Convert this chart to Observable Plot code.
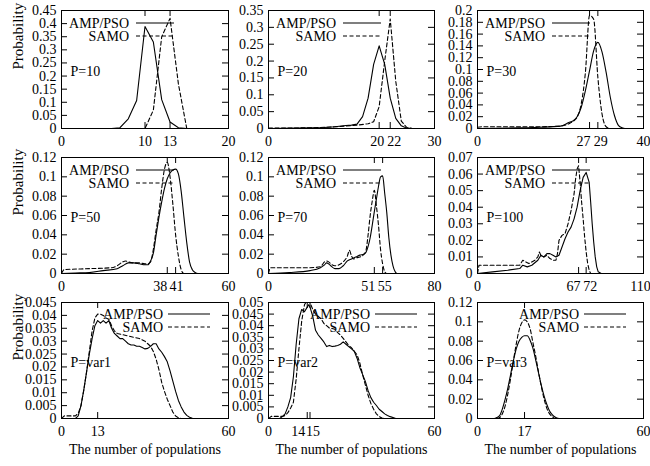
<!DOCTYPE html>
<html><head><meta charset="utf-8">
<script src="https://cdn.jsdelivr.net/npm/d3@7"></script>
<script src="https://cdn.jsdelivr.net/npm/@observablehq/plot@0.6"></script>
<style>
html,body{margin:0;padding:0;background:#fff;}
#chart{position:relative;width:650px;height:466px;overflow:hidden;background:#fff;}
</style></head><body><div id="chart"></div>
<script>
// ---- data (x = number of populations, y = probability) ----
const p10Amp = [[0,0],[6,0],[7,0.003],[8,0.037],[9,0.107],[10,0.389],[11,0.33],[12,0.11],[13,0.025],[14,0.003],[15,0],[20,0]];
const p10Samo = [[0,0],[10,0],[11,0.07],[12,0.35],[13,0.42],[14,0.17],[15,0],[20,0]];
const p10XTicks = [0,10,13,20];

const p20Amp = [[0,0],[5,0.001],[8,0.002],[10,0.003],[12,0.005],[14,0.009],[15,0.01],[16,0.013],[17,0.035],[18,0.09],[19,0.19],[20,0.245],[21,0.19],[22,0.09],[23,0.03],[24,0.008],[25,0.001],[26,0],[30,0]];
const p20Samo = [[0,0.001],[8,0.002],[12,0.005],[16,0.01],[18,0.014],[19,0.02],[20,0.065],[21,0.2],[22,0.325],[23,0.14],[24,0.022],[25,0.003],[26,0],[30,0]];
const p20XTicks = [0,20,22,30];

const p30Amp = [[0,0],[10,0.001],[15,0.002],[20,0.004],[22,0.01],[23,0.013],[24,0.02],[25,0.036],[26,0.064],[27,0.098],[28,0.132],[29,0.146],[30,0.13],[31,0.095],[32,0.053],[33,0.022],[34,0.005],[35,0.001],[36,0],[40,0]];
const p30Samo = [[0,0.002],[1,0.003],[15,0.003],[20,0.004],[22,0.008],[23,0.012],[24,0.019],[25,0.042],[26,0.095],[27,0.192],[28,0.185],[29,0.087],[30,0.025],[31,0.003],[32,0],[40,0]];
const p30XTicks = [0,27,29,40];

const p50Amp = [[0,0],[5,0.0005],[10,0.001],[15,0.003],[20,0.005],[22,0.008],[24,0.011],[26,0.011],[28,0.01],[30,0.009],[31,0.009],[32,0.013],[33,0.021],[34,0.04],[35,0.058],[36,0.074],[37,0.088],[38,0.098],[39,0.104],[40,0.107],[41,0.108],[42,0.103],[43,0.085],[44,0.058],[45,0.032],[46,0.012],[47,0.004],[48,0.001],[49,0],[60,0]];
const p50Samo = [[0,0],[1,0.004],[10,0.005],[18,0.006],[20,0.008],[22,0.012],[23,0.013],[24,0.012],[26,0.011],[28,0.011],[30,0.01],[31,0.01],[32,0.012],[33,0.025],[34,0.045],[35,0.063],[36,0.088],[37,0.108],[38,0.115],[39,0.1],[40,0.072],[41,0.04],[42,0.018],[43,0.004],[44,0],[60,0]];
const p50XTicks = [0,38,41,60];

const p70Amp = [[0,0],[10,0.001],[20,0.003],[25,0.006],[27,0.009],[28,0.011],[29,0.01],[30,0.008],[32,0.005],[34,0.005],[36,0.008],[38,0.013],[40,0.015],[42,0.017],[44,0.019],[46,0.02],[47,0.022],[48,0.028],[49,0.037],[50,0.05],[51,0.064],[52,0.077],[53,0.09],[54,0.1],[55,0.101],[56,0.083],[57,0.063],[58,0.037],[59,0.019],[60,0.008],[61,0.002],[62,0],[80,0]];
const p70Samo = [[0,0],[1,0.006],[10,0.006],[20,0.006],[25,0.007],[27,0.012],[28,0.013],[29,0.012],[30,0.01],[32,0.008],[34,0.009],[36,0.012],[38,0.018],[39,0.024],[40,0.018],[41,0.015],[42,0.016],[44,0.017],[46,0.02],[47,0.024],[48,0.04],[49,0.06],[50,0.075],[51,0.086],[52,0.07],[53,0.05],[54,0.025],[55,0.01],[56,0.002],[57,0],[80,0]];
const p70XTicks = [0,51,55,80];

const p100Amp = [[0,0],[10,0.001],[20,0.002],[28,0.003],[30,0.005],[33,0.004],[36,0.005],[40,0.008],[42,0.011],[44,0.01],[46,0.012],[48,0.012],[50,0.011],[52,0.01],[54,0.011],[56,0.016],[58,0.021],[60,0.025],[62,0.028],[64,0.033],[66,0.04],[68,0.05],[70,0.058],[72,0.061],[74,0.055],[75,0.043],[76,0.03],[77,0.019],[78,0.01],[79,0.004],[80,0.001],[82,0],[110,0]];
const p100Samo = [[0,0],[1,0.005],[28,0.005],[30,0.008],[32,0.007],[34,0.006],[36,0.007],[38,0.008],[40,0.01],[41,0.013],[42,0.011],[44,0.01],[46,0.011],[48,0.009],[50,0.008],[52,0.008],[53,0.012],[54,0.02],[56,0.023],[58,0.024],[60,0.03],[62,0.038],[64,0.048],[65,0.057],[66,0.063],[67,0.065],[68,0.055],[69,0.043],[70,0.033],[71,0.022],[72,0.013],[73,0.006],[74,0.002],[75,0],[110,0]];
const p100XTicks = [0,67,72,110];

const var1Amp = [[0,0],[5,0],[6,0.001],[7,0.005],[8,0.011],[9,0.018],[10,0.025],[11,0.031],[12,0.036],[13,0.038],[14,0.037],[15,0.038],[16,0.037],[17,0.038],[18,0.035],[19,0.033],[20,0.032],[21,0.031],[22,0.031],[23,0.03],[24,0.029],[25,0.0285],[26,0.0285],[27,0.028],[28,0.028],[29,0.0275],[30,0.027],[31,0.0272],[32,0.028],[33,0.029],[34,0.029],[35,0.027],[36,0.0257],[37,0.024],[38,0.022],[39,0.0185],[40,0.0145],[41,0.0105],[42,0.007],[43,0.0045],[44,0.0025],[45,0.0012],[46,0.0005],[47,0.0001],[48,0],[60,0]];
const var1Samo = [[0,0],[1,0.001],[5,0.001],[6,0.002],[7,0.005],[8,0.011],[9,0.018],[10,0.026],[11,0.034],[12,0.039],[13,0.0405],[14,0.0405],[15,0.04],[16,0.039],[17,0.0385],[18,0.036],[19,0.034],[20,0.033],[22,0.0325],[24,0.032],[26,0.0315],[28,0.031],[30,0.03],[31,0.029],[32,0.028],[33,0.026],[34,0.023],[35,0.019],[36,0.014],[37,0.0105],[38,0.0075],[39,0.005],[40,0.0025],[41,0.001],[42,0.0003],[43,0],[60,0]];
const var1XTicks = [0,13,60];

const var2Amp = [[0,0],[4,0],[5,0.0008],[6,0.002],[7,0.005],[8,0.009],[9,0.018],[10,0.032],[11,0.043],[12,0.047],[13,0.046],[14,0.048],[14.5,0.049],[15,0.048],[16,0.044],[17,0.038],[18,0.036],[19,0.0345],[20,0.033],[21,0.031],[22,0.0315],[23,0.031],[24,0.0312],[25,0.0315],[26,0.032],[27,0.033],[28,0.032],[29,0.031],[30,0.03],[31,0.029],[32,0.026],[33,0.022],[34,0.019],[35,0.016],[36,0.012],[37,0.009],[38,0.007],[39,0.0056],[40,0.004],[41,0.003],[42,0.002],[43,0.0013],[44,0.0008],[45,0.0004],[46,0],[60,0]];
const var2Samo = [[0,0],[1,0.0009],[5,0.0009],[6,0.0013],[7,0.0025],[8,0.0045],[9,0.007],[10,0.017],[11,0.03],[12,0.042],[13,0.049],[14,0.051],[15,0.05],[16,0.047],[17,0.045],[18,0.044],[19,0.043],[20,0.041],[21,0.04],[22,0.039],[23,0.0388],[24,0.0385],[25,0.037],[26,0.036],[27,0.0345],[28,0.033],[29,0.0315],[30,0.0305],[31,0.029],[32,0.0275],[33,0.024],[34,0.019],[35,0.0145],[36,0.01],[37,0.0065],[38,0.004],[39,0.002],[40,0.0008],[41,0.0002],[42,0],[60,0]];
const var2XTicks = [0,14,15,60];

const var3Amp = [[0,0],[6,0],[7,0.001],[8,0.003],[9,0.01],[10,0.02],[11,0.032],[12,0.046],[13,0.06],[14,0.072],[15,0.08],[16,0.084],[17,0.0856],[18,0.0856],[19,0.081],[20,0.073],[21,0.061],[22,0.048],[23,0.035],[24,0.024],[25,0.015],[26,0.008],[27,0.004],[28,0.0015],[29,0.0003],[30,0],[60,0]];
const var3Samo = [[0,0],[7,0],[8,0.001],[9,0.005],[10,0.013],[11,0.026],[12,0.042],[13,0.06],[14,0.077],[15,0.091],[16,0.099],[17,0.102],[18,0.1],[19,0.093],[20,0.079],[21,0.065],[22,0.049],[23,0.034],[24,0.021],[25,0.011],[26,0.005],[27,0.002],[28,0],[60,0]];
const var3XTicks = [0,17,60];

const panelLabels = ["P=10","P=20","P=30","P=50","P=70","P=100","P=var1","P=var2","P=var3"];
const seriesNames = ["AMP/PSO","SAMO"];
const yLabel = "Probability";
const xLabel = "The number of populations";

const panels = [
  {amp:p10Amp, samo:p10Samo, xMax:20, xTicks:p10XTicks, yMax:0.45, yStep:0.05, curve:"linear", nudge:{}},
  {amp:p20Amp, samo:p20Samo, xMax:30, xTicks:p20XTicks, yMax:0.35, yStep:0.05, curve:"linear", nudge:{20:-2, 22:4}},
  {amp:p30Amp, samo:p30Samo, xMax:40, xTicks:p30XTicks, yMax:0.2, yStep:0.02, curve:"monotone-x", nudge:{27:-6, 29:3}},
  {amp:p50Amp, samo:p50Samo, xMax:60, xTicks:p50XTicks, yMax:0.12, yStep:0.02, curve:"monotone-x", nudge:{38:-7, 41:1}},
  {amp:p70Amp, samo:p70Samo, xMax:80, xTicks:p70XTicks, yMax:0.12, yStep:0.02, curve:"monotone-x", nudge:{51:-6, 55:2}},
  {amp:p100Amp, samo:p100Samo, xMax:110, xTicks:p100XTicks, yMax:0.07, yStep:0.01, curve:"linear", nudge:{67:-5, 72:4, 110:-3}},
  {amp:var1Amp, samo:var1Samo, xMax:60, xTicks:var1XTicks, yMax:0.045, yStep:0.005, curve:"linear", nudge:{}},
  {amp:var2Amp, samo:var2Samo, xMax:60, xTicks:var2XTicks, yMax:0.05, yStep:0.005, curve:"linear", nudge:{14:-9, 15:3}},
  {amp:var3Amp, samo:var3Samo, xMax:60, xTicks:var3XTicks, yMax:0.12, yStep:0.02, curve:"monotone-x", nudge:{}}
];

// ---- layout ----
const cols = [{left:61, w:167},{left:268, w:166},{left:477, w:166}];
const rows = [{top:10, h:118},{top:157, h:116},{top:302, h:116}];
const ML = 60, MT = 10, MR = 12;
const FONT = '"Liberation Serif","Times New Roman",Times,serif';
const TICK = 6;
const DASH = "4,2.5";
const chart = document.getElementById("chart");

panels.forEach((p, i) => {
  const c = cols[i % 3], r = rows[Math.floor(i / 3)];
  const rowIdx = Math.floor(i / 3), colIdx = i % 3;
  const MB = rowIdx === 2 ? 48 : 28;
  const fw = c.w, fh = r.h;
  const yTicks = d3.range(0, Math.round(p.yMax / p.yStep) + 1).map(k => +(k * p.yStep).toFixed(4));
  const marks = [
    Plot.frame({stroke: "black", strokeWidth: 1}),
    Plot.tickX(p.xTicks, {x: d => d, insetTop: fh - TICK, stroke: "black"}),
    Plot.tickX(p.xTicks, {x: d => d, insetBottom: fh - TICK, stroke: "black"}),
    Plot.tickY(yTicks, {y: d => d, insetRight: fw - TICK, stroke: "black"}),
    Plot.tickY(yTicks, {y: d => d, insetLeft: fw - TICK, stroke: "black"}),
    ...p.xTicks.map(t => Plot.axisX([t], {tickSize: 0, tickPadding: 8, dx: p.nudge[t] || 0, tickFormat: d => String(d), fill: "black"})),
    Plot.axisY(yTicks, {tickSize: 0, tickPadding: 5, tickFormat: d => String(d), fill: "black"}),
    Plot.line(p.amp, {x: d => d[0], y: d => d[1], stroke: "black", strokeWidth: 1.1, curve: p.curve, clip: true}),
    Plot.line(p.samo, {x: d => d[0], y: d => d[1], stroke: "black", strokeWidth: 1.1, strokeDasharray: DASH, curve: p.curve, clip: true}),
    Plot.text([panelLabels[i]], {frameAnchor: "left", dx: 9, dy: 2, textAnchor: "start", fill: "black"})
  ];
  if (colIdx === 0) {
    marks.push(Plot.text([yLabel], {frameAnchor: "left", dx: -43, rotate: -90, fill: "black", fontSize: 15}));
  }
  if (rowIdx === 2) {
    marks.push(Plot.text([xLabel], {frameAnchor: "bottom", dy: 35, fill: "black"}));
  }
  const svg = Plot.plot({
    width: ML + fw + MR,
    height: MT + fh + MB,
    marginLeft: ML, marginTop: MT, marginRight: MR, marginBottom: MB,
    x: {domain: [0, p.xMax], label: null},
    y: {domain: [0, p.yMax], label: null},
    style: {
      background: "none", overflow: "visible", position: "absolute",
      left: (c.left - ML) + "px", top: (r.top - MT) + "px",
      fontFamily: FONT, fontSize: "14px", color: "black"
    },
    marks
  });
  // legend (key) drawn inside the frame
  const g = d3.select(svg).append("g").attr("font-family", FONT).attr("font-size", 14);
  const key = rowIdx === 2 ? {tx: 102, x1: 107, x2: 149, y0: 12} : {tx: 68, x1: 75, x2: 113, y0: 13};
  seriesNames.forEach((name, k) => {
    const y = MT + key.y0 + k * 13;
    g.append("text").attr("x", ML + key.tx).attr("y", y).attr("dy", "0.35em")
      .attr("text-anchor", "end").attr("fill", "black").text(name);
    g.append("line").attr("x1", ML + key.x1).attr("x2", ML + key.x2).attr("y1", y).attr("y2", y)
      .attr("stroke", "black").attr("stroke-width", 1.1)
      .attr("stroke-dasharray", k === 1 ? DASH : null);
  });
  chart.appendChild(svg);
});
</script>
</body></html>
